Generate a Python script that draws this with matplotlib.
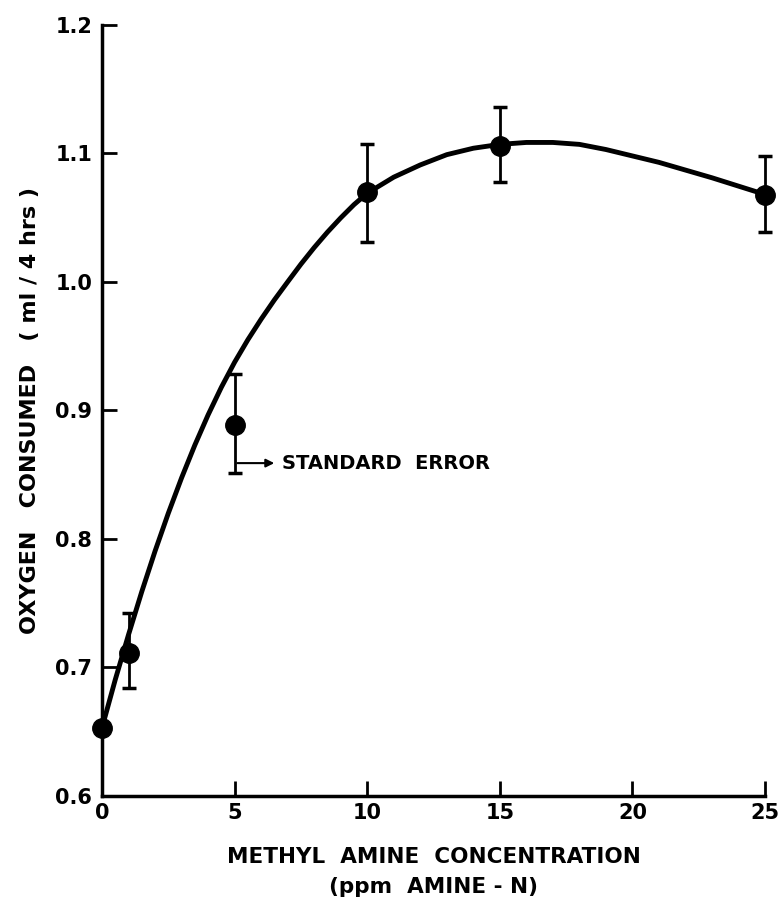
import numpy as np
import matplotlib
matplotlib.use("Agg")
import matplotlib.pyplot as plt

# measured points (mean +/- standard error)
conc = [0, 1, 5, 10, 15, 25]
oxygen = [0.653, 0.711, 0.889, 1.070, 1.106, 1.068]
err_lo = [0.653, 0.684, 0.851, 1.031, 1.078, 1.039]
err_hi = [0.653, 0.742, 0.928, 1.107, 1.136, 1.098]

# fitted curve
curve_x = [0, 0.5, 1, 1.5, 2, 2.5, 3, 3.5, 4, 4.5, 5, 5.5, 6, 6.5, 7, 7.5, 8, 8.5,
           9, 9.5, 10, 11, 12, 13, 14, 15, 16, 17, 18, 19, 20, 21, 22, 23, 24, 25]
curve_y = [0.653, 0.6905, 0.7255, 0.759, 0.7905, 0.820, 0.8475, 0.873, 0.8965, 0.918,
           0.9375, 0.955, 0.971, 0.986, 1.000, 1.0138, 1.0267, 1.0387, 1.0498, 1.0601,
           1.069, 1.0815, 1.091, 1.099, 1.104, 1.107, 1.1085, 1.1085, 1.107, 1.103,
           1.098, 1.093, 1.087, 1.081, 1.0745, 1.068]

xticks = [0, 5, 10, 15, 20, 25]
yticks = [0.6, 0.7, 0.8, 0.9, 1.0, 1.1, 1.2]
ytick_labels = ['0.6', '0.7', '0.8', '0.9', '1.0', '1.1', '1.2']

plt.rcParams['font.family'] = ['DejaVu Sans']

fig = plt.figure(figsize=(7.81, 9.07), dpi=100)
ax = fig.add_axes([0.1306, 0.1224, 0.849, 0.8502])

ax.plot(curve_x, curve_y, color='black', lw=3.5, solid_capstyle='round',
        solid_joinstyle='round', clip_on=False, zorder=3)

yerr = [np.array(oxygen) - np.array(err_lo), np.array(err_hi) - np.array(oxygen)]
ax.errorbar(conc, oxygen, yerr=yerr, fmt='o', color='black', ms=14, elinewidth=2,
            capsize=5, capthick=2.5, clip_on=False, zorder=4)

# standard error pointer
ax.annotate('', xy=(6.6, 0.859), xytext=(5, 0.859),
            arrowprops=dict(arrowstyle='-|>', color='black', lw=1.5, mutation_scale=12))
ax.text(6.8, 0.859, 'STANDARD  ERROR', fontsize=14, fontweight='bold', va='center', ha='left')

ax.set_xlim(0, 25)
ax.set_ylim(0.6, 1.2)
ax.set_xticks(xticks)
ax.set_yticks(yticks)
ax.set_yticklabels(ytick_labels)
ax.tick_params(direction='in', length=11, width=2, labelsize=15)
ax.tick_params(axis='y', pad=7)
ax.tick_params(axis='x', pad=5)
for lbl in ax.get_xticklabels() + ax.get_yticklabels():
    lbl.set_fontweight('bold')

for s in ['top', 'right']:
    ax.spines[s].set_visible(False)
for s in ['left', 'bottom']:
    ax.spines[s].set_linewidth(2.5)

ax.set_xlabel('METHYL  AMINE  CONCENTRATION\n(ppm  AMINE - N)', fontsize=15.5,
              fontweight='bold', labelpad=17, linespacing=1.65)
ax.set_ylabel('OXYGEN   CONSUMED   ( ml / 4 hrs )', fontsize=16, fontweight='bold', labelpad=11)

fig.savefig('out.png', dpi=100)
